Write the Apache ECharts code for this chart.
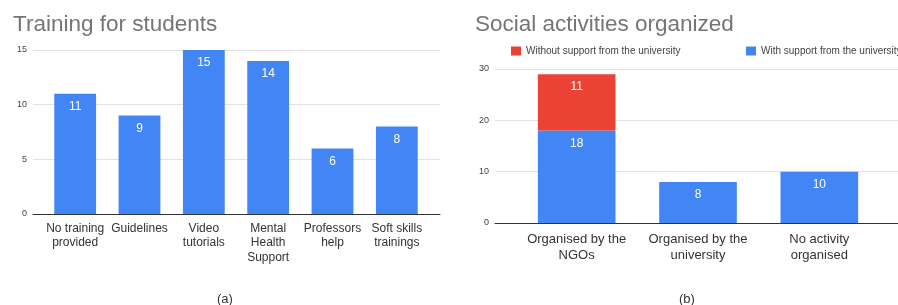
<!DOCTYPE html>
<html>
<head>
<meta charset="utf-8">
<script src="https://cdn.jsdelivr.net/npm/echarts@6/dist/echarts.min.js"></script>
<style>
  html, body { margin: 0; padding: 0; background: #fff; }
  #chart { width: 898px; height: 305px; }
</style>
</head>
<body>
<div id="chart"></div>
<script>
// (a) Training for students
const trainingCategories = ['No training provided', 'Guidelines', 'Video tutorials', 'Mental Health Support', 'Professors help', 'Soft skills trainings'];
const trainingLabels = ['No training\nprovided', 'Guidelines', 'Video\ntutorials', 'Mental\nHealth\nSupport', 'Professors\nhelp', 'Soft skills\ntrainings'];
const trainingValues = [11, 9, 15, 14, 6, 8];
const trainingTicks = [0, 5, 10, 15];

// (b) Social activities organized
const activityCategories = ['Organised by the NGOs', 'Organised by the university', 'No activity organised'];
const activityLabels = ['Organised by the\nNGOs', 'Organised by the\nuniversity', 'No activity\norganised'];
const withSupport = [18, 8, 10];
const withoutSupport = [11, 0, 0];
const activityTicks = [0, 10, 20, 30];

const FONT = 'Arial, "Liberation Sans", sans-serif';
const BLUE = '#4285F4';
const RED = '#EA4335';

const chart = echarts.init(document.getElementById('chart'));

function bgAxes(ticks) {
    return {
        x: {
            type: 'value', min: 0, max: 1,
            axisLine: { show: true, lineStyle: { color: '#333', width: 1 } },
            axisTick: { show: false }, axisLabel: { show: false }, splitLine: { show: false }
        },
        y: {
            type: 'value', min: ticks[0], max: ticks[ticks.length - 1],
            interval: ticks[1] - ticks[0],
            axisLine: { show: false }, axisTick: { show: false },
            axisLabel: { fontSize: 9, color: '#444', margin: 6, fontFamily: FONT },
            splitLine: { lineStyle: { color: '#e2e2e2' } }
        }
    };
}

const bgA = bgAxes(trainingTicks);
const bgB = bgAxes(activityTicks);

const valueLabel = {
    show: true, position: 'insideTop', distance: 7,
    color: '#fff', fontSize: 12, fontFamily: FONT,
    formatter: p => (p.value ? p.value : '')
};

const titleStyle = { fontSize: 22.5, color: '#757575', fontWeight: 'normal', fontFamily: FONT };
const captionStyle = { fontSize: 13, color: '#333', fontWeight: 'normal', fontFamily: FONT };
const legendText = { fontSize: 10, color: '#444', fontFamily: FONT };

const option = {
    animation: false,
    title: [
        { text: 'Training for students', left: 13, top: 13, padding: 0, textStyle: titleStyle },
        { text: 'Social activities organized', left: 475, top: 13, padding: 0, textStyle: titleStyle },
        { text: '(a)', left: 217, top: 293, padding: 0, textStyle: captionStyle },
        { text: '(b)', left: 679, top: 293, padding: 0, textStyle: captionStyle }
    ],
    legend: [
        {
            data: ['Without support from the university'],
            left: 511, top: 46, padding: 0, orient: 'horizontal',
            icon: 'rect', itemWidth: 10, itemHeight: 9, itemGap: 4,
            textStyle: legendText
        },
        {
            data: ['With support from the university'],
            left: 746, top: 46, padding: 0, orient: 'horizontal', width: 200,
            icon: 'rect', itemWidth: 10, itemHeight: 9, itemGap: 4,
            textStyle: legendText
        }
    ],
    grid: [
        { left: 33, top: 50, width: 407, height: 164 },
        { left: 43, top: 50, width: 386, height: 164 },
        { left: 495, top: 69, width: 403, height: 154 },
        { left: 516, top: 69, width: 364, height: 154 }
    ],
    xAxis: [
        Object.assign({ gridIndex: 0 }, bgA.x),
        {
            gridIndex: 1, type: 'category', data: trainingCategories,
            axisLine: { show: false }, axisTick: { show: false },
            axisLabel: {
                interval: 0, margin: 7, fontSize: 12, lineHeight: 14.5, color: '#333', fontFamily: FONT,
                formatter: (v, i) => trainingLabels[i]
            }
        },
        Object.assign({ gridIndex: 2 }, bgB.x),
        {
            gridIndex: 3, type: 'category', data: activityCategories,
            axisLine: { show: false }, axisTick: { show: false },
            axisLabel: {
                interval: 0, margin: 8, fontSize: 13, lineHeight: 16, color: '#333', fontFamily: FONT,
                formatter: (v, i) => activityLabels[i]
            }
        }
    ],
    yAxis: [
        Object.assign({ gridIndex: 0 }, bgA.y),
        { gridIndex: 1, type: 'value', min: 0, max: 15, show: false },
        Object.assign({ gridIndex: 2 }, bgB.y),
        { gridIndex: 3, type: 'value', min: 0, max: 30, show: false }
    ],
    series: [
        {
            name: 'Training', type: 'bar', xAxisIndex: 1, yAxisIndex: 1,
            data: trainingValues, barWidth: '65%',
            itemStyle: { color: BLUE }, label: valueLabel
        },
        {
            name: 'With support from the university', type: 'bar', xAxisIndex: 3, yAxisIndex: 3,
            stack: 'act', data: withSupport, barWidth: '64%',
            itemStyle: { color: BLUE }, label: valueLabel
        },
        {
            name: 'Without support from the university', type: 'bar', xAxisIndex: 3, yAxisIndex: 3,
            stack: 'act', data: withoutSupport, barWidth: '64%',
            itemStyle: { color: RED }, label: valueLabel
        }
    ]
};

chart.setOption(option);
</script>
</body>
</html>
